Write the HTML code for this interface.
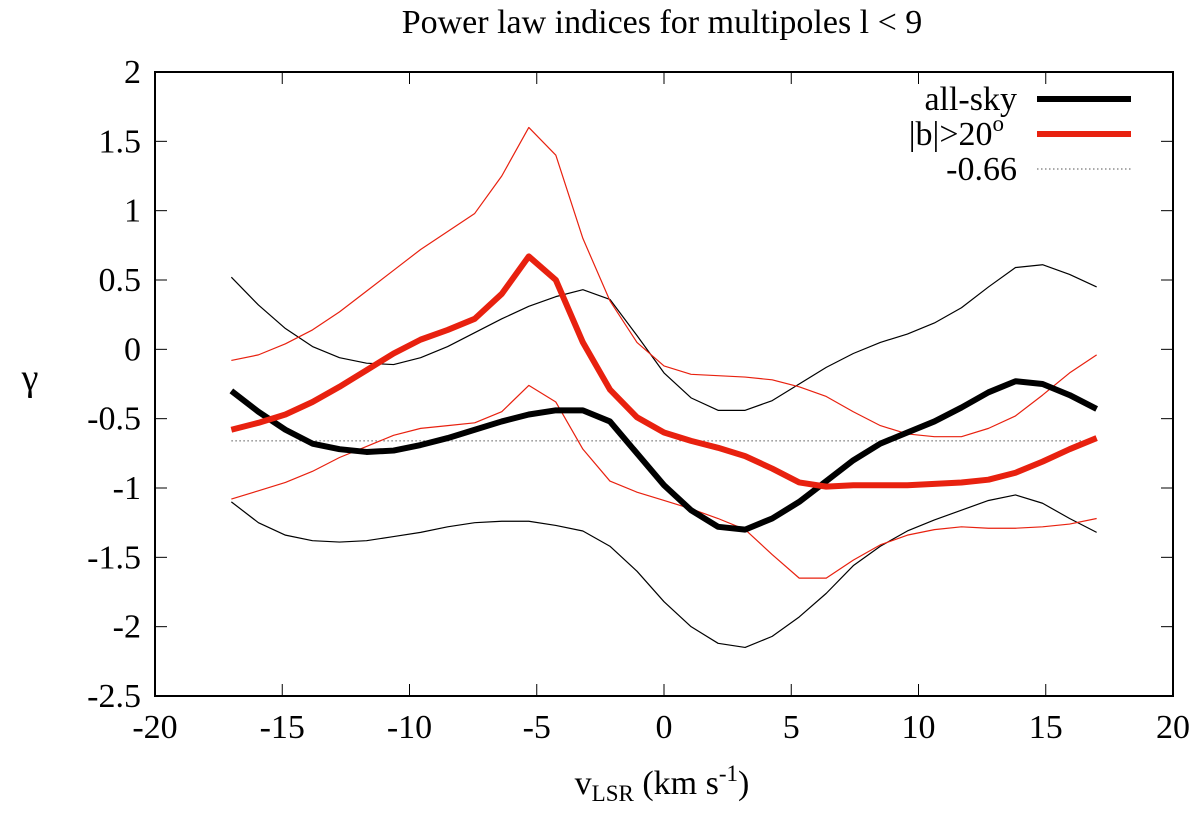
<!DOCTYPE html>
<html><head><meta charset="utf-8"><style>
body{margin:0;background:#fff;}
svg text{font-family:"Liberation Serif","DejaVu Serif",serif;fill:#000;}
</style></head><body>
<svg width="1200" height="812" font-family="Liberation Serif, DejaVu Serif, serif" xmlns="http://www.w3.org/2000/svg">
<g id="plot"></g>
</svg>
<script>
const xStart=-17, xStep=1.0625;
const allSky=[-0.3,-0.45,-0.58,-0.68,-0.72,-0.74,-0.73,-0.69,-0.64,-0.58,-0.52,-0.47,-0.44,-0.44,-0.52,-0.75,-0.98,-1.16,-1.28,-1.30,-1.22,-1.10,-0.95,-0.80,-0.68,-0.60,-0.52,-0.42,-0.31,-0.23,-0.25,-0.33,-0.43];
const allSkyUp=[0.52,0.32,0.15,0.02,-0.06,-0.1,-0.11,-0.06,0.02,0.12,0.22,0.31,0.38,0.43,0.36,0.1,-0.17,-0.35,-0.44,-0.44,-0.37,-0.25,-0.13,-0.03,0.05,0.11,0.19,0.3,0.45,0.59,0.61,0.54,0.45];
const allSkyLo=[-1.1,-1.25,-1.34,-1.38,-1.39,-1.38,-1.35,-1.32,-1.28,-1.25,-1.24,-1.24,-1.27,-1.31,-1.42,-1.6,-1.82,-2.0,-2.12,-2.15,-2.07,-1.93,-1.76,-1.56,-1.42,-1.31,-1.23,-1.16,-1.09,-1.05,-1.11,-1.22,-1.32];
const highB=[-0.58,-0.53,-0.47,-0.38,-0.27,-0.15,-0.03,0.07,0.14,0.22,0.4,0.67,0.50,0.05,-0.29,-0.49,-0.6,-0.66,-0.71,-0.77,-0.86,-0.96,-0.99,-0.98,-0.98,-0.98,-0.97,-0.96,-0.94,-0.89,-0.81,-0.72,-0.64];
const highBUp=[-0.08,-0.04,0.04,0.14,0.27,0.42,0.57,0.72,0.85,0.98,1.25,1.6,1.4,0.8,0.35,0.05,-0.12,-0.18,-0.19,-0.2,-0.22,-0.27,-0.34,-0.45,-0.55,-0.61,-0.63,-0.63,-0.57,-0.48,-0.33,-0.17,-0.04];
const highBLo=[-1.08,-1.02,-0.96,-0.88,-0.78,-0.7,-0.62,-0.57,-0.55,-0.53,-0.45,-0.26,-0.38,-0.72,-0.95,-1.03,-1.09,-1.15,-1.22,-1.3,-1.48,-1.65,-1.65,-1.52,-1.41,-1.34,-1.30,-1.28,-1.29,-1.29,-1.28,-1.26,-1.22];
const refLevel=-0.66;
const xTicks=[-20,-15,-10,-5,0,5,10,15,20];
const yTicks=[-2.5,-2,-1.5,-1,-0.5,0,0.5,1,1.5,2];

const L=155,R=1173,T=72,B=696;
const sx=v=>L+(v+20)/40*(R-L);
const sy=v=>B-(v+2.5)/4.5*(B-T);
const g=document.getElementById('plot');
const NS='http://www.w3.org/2000/svg';
function mk(t,a){const e=document.createElementNS(NS,t);for(const k in a)e.setAttribute(k,a[k]);g.appendChild(e);return e;}
function txt(x,y,s,anchor,size){const e=mk('text',{x:x,y:y,'text-anchor':anchor,'font-size':size,'font-family':'Liberation Serif, DejaVu Serif, serif'});e.textContent=s;return e;}

xTicks.forEach(v=>{
 const t=mk('line',{x1:sx(v),x2:sx(v),y1:B,y2:B-12,stroke:'#000','stroke-width':1});
 
 
 const t2=mk('line',{x1:sx(v),x2:sx(v),y1:T,y2:T+12,stroke:'#000','stroke-width':1});
 
 
 const l=txt(sx(v),B+42,String(v),'middle',34);
 
 
});
yTicks.forEach(v=>{
 const t=mk('line',{x1:L,x2:L+12,y1:sy(v),y2:sy(v),stroke:'#000','stroke-width':1});
 
 
 const t2=mk('line',{x1:R,x2:R-12,y1:sy(v),y2:sy(v),stroke:'#000','stroke-width':1});
 
 
 const l=txt(L-14,sy(v)+11,String(v),'end',34);
 
 
});
const ref=mk('line',{x1:sx(-17),x2:sx(17),y1:sy(refLevel),y2:sy(refLevel),stroke:'#555','stroke-width':1,'stroke-dasharray':'1.5,2.5'});


function series(vals,color,w,name){
 const p=mk('polyline',{points:vals.map((v,i)=>sx(xStart+i*xStep)+','+sy(v)).join(' '),fill:'none',stroke:color,'stroke-width':w,'stroke-linejoin':'round'});
 
 
}
series(allSkyUp,'#000',1.2,'all-sky-upper');
series(allSkyLo,'#000',1.2,'all-sky-lower');
series(highBUp,'#e8210f',1.2,'high-b-upper');
series(highBLo,'#e8210f',1.2,'high-b-lower');
series(allSky,'#000',6,'all-sky-line');
series(highB,'#e8210f',6,'high-b-line');
const fr=mk('rect',{x:L,y:T,width:R-L,height:B-T,fill:'none',stroke:'#000','stroke-width':2});


</script>
<svg style="position:absolute;left:0;top:0" width="1200" height="812" font-family="Liberation Serif, DejaVu Serif, serif">
<text x="662" y="33" text-anchor="middle" font-size="34">Power law indices for multipoles l &lt; 9</text>
<text x="30" y="390" text-anchor="middle" font-size="38">γ</text>
<text x="662" y="794" text-anchor="middle" font-size="34">v<tspan font-size="23" dy="7">LSR</tspan><tspan dy="-7"> (km s</tspan><tspan font-size="23" dy="-13">-1</tspan><tspan dy="13">)</tspan></text>
<g>
<text x="1017" y="110" text-anchor="end" font-size="34">all-sky</text>
<line x1="1037" x2="1131" y1="99" y2="99" stroke="#000" stroke-width="6"/>
<text x="1004" y="145" text-anchor="end" font-size="34">|b|&gt;20<tspan font-size="23" dy="-14">o</tspan></text>
<line x1="1037" x2="1131" y1="134" y2="134" stroke="#e8210f" stroke-width="6"/>
<text x="1017" y="180" text-anchor="end" font-size="34">-0.66</text>
<line x1="1037" x2="1131" y1="169" y2="169" stroke="#555" stroke-width="1" stroke-dasharray="1.5,2.5"/>
</g>
</svg>
</body></html>
